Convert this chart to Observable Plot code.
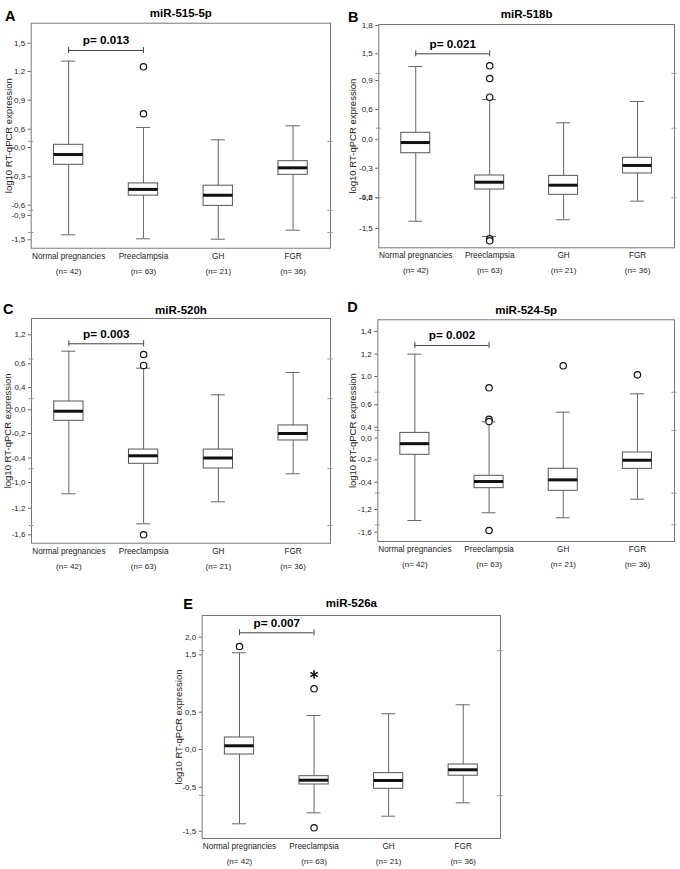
<!DOCTYPE html>
<html><head><meta charset="utf-8">
<script src="https://cdn.jsdelivr.net/npm/d3@7"></script>
<script src="https://cdn.jsdelivr.net/npm/@observablehq/plot@0.6"></script>
<style>
body{margin:0;background:#fff}
#fig{position:relative;width:680px;height:869px;overflow:hidden}
#fig svg{position:absolute;overflow:visible}
</style></head><body><div id="fig"></div><script>
// ---- shared categories ----
const groups = ["Normal pregnancies", "Preeclampsia", "GH", "FGR"];
const groupN = ["(n= 42)", "(n= 63)", "(n= 21)", "(n= 36)"];
const yLabel = "log10 RT-qPCR expression";

// ---- Panel A: miR-515-5p ----
const ticksA = [-1.5, -0.9, -0.6, -0.3, 0.0, 0.6, 0.9, 1.2, 1.5];
const tickLabelsA = ["-1,5", "-0,9", "-0,6", "-0,3", "0,0", "0,6", "0,9", "1,2", "1,5"];
const lowA = [-1.376, -1.475, -1.485, -1.263];
const q1A = [-0.177, -0.499, -0.62, -0.28];
const medA = [-0.072, -0.433, -0.495, -0.208];
const q3A = [0.089, -0.37, -0.394, -0.14];
const highA = [1.31, 0.618, 0.252, 0.635];
const outGroupA = [1, 1];
const outValA = [1.25, 0.76];
const breaksA = [0.2, -0.75, -1.32];

// ---- Panel B: miR-518b ----
const ticksB = [-1.5, -1.2, -0.3, 0.0, 0.6, 0.9, 1.5, 1.8];
const tickLabelsB = ["-1,5", "-1,2", "-0,3", "0,0", "0,6", "0,9", "1,5", "1,8"];
const overlapTickB = [-1.2];
const overlapLabelB = ["-0,6"];
const lowB = [-1.429, -1.578, -1.415, -1.233];
const q1B = [-0.142, -0.948, -1.109, -0.461];
const medB = [-0.029, -0.726, -0.817, -0.271];
const q3B = [0.139, -0.522, -0.533, -0.19];
const highB = [1.215, 0.703, 0.337, 0.683];
const outGroupB = [1, 1, 1, 1, 1];
const outValB = [1.23, 0.945, 0.727, -1.60, -1.62];
const breaksB = [1.06, 0.23, -1.2];

// ---- Panel C: miR-520h ----
const ticksC = [-1.6, -1.2, -1.0, -0.4, -0.2, 0.0, 0.4, 0.6, 1.2];
const tickLabelsC = ["-1,6", "-1,2", "-1,0", "-0,4", "-0,2", "0,0", "0,4", "0,6", "1,2"];
const lowC = [-1.088, -1.435, -1.15, -0.787];
const q1C = [-0.093, -0.542, -0.657, -0.257];
const medC = [-0.012, -0.382, -0.40, -0.2];
const q3C = [0.149, -0.331, -0.331, -0.132];
const highC = [0.861, 0.563, 0.269, 0.527];
const outGroupC = [1, 1, 1];
const outValC = [0.792, 0.586, -1.6];
const breaksC = [0.70, 0.2, -0.66, -1.46];

// ---- Panel D: miR-524-5p ----
const ticksD = [-1.6, -1.2, -0.4, -0.2, 0.0, 0.4, 0.6, 1.0, 1.2, 1.4];
const tickLabelsD = ["-1,6", "-1,2", "-0,4", "-0,2", "0,0", "0,4", "0,6", "1,0", "1,2", "1,4"];
const lowD = [-1.394, -1.258, -1.346, -0.898];
const q1D = [-0.154, -0.576, -0.652, -0.281];
const medD = [-0.052, -0.394, -0.379, -0.204];
const q3D = [0.189, -0.343, -0.28, -0.133];
const highD = [1.2, 0.448, 0.534, 0.755];
const outGroupD = [1, 1, 1, 1, 2, 3];
const outValD = [0.84, 0.471, 0.451, -1.57, 1.096, 1.015];
const breaksD = [0.778, 0.28, -0.72, -1.47];

// ---- Panel E: miR-526a ----
const ticksE = [-1.5, -0.5, 0.0, 0.5, 1.5, 2.0];
const tickLabelsE = ["-1,5", "-0,5", "0,0", "0,5", "1,5", "2,0"];
const lowE = [-1.332, -1.082, -1.159, -0.855];
const q1E = [-0.066, -0.464, -0.536, -0.348];
const medE = [0.05, -0.407, -0.411, -0.269];
const q3E = [0.161, -0.354, -0.314, -0.199];
const highE = [1.557, 0.456, 0.479, 0.629];
const outGroupE = [0, 1, 1];
const outValE = [1.736, 0.908, -1.423];
const extremeGroupE = [1];
const extremeValE = [1.157];
const breaksE = [1.62, -0.69];

// ---- p-value brackets ----
const pTexts = ["p= 0.013", "p= 0.021", "p= 0.003", "p= 0.002", "p= 0.007"];
const pLevels = [1.423, 1.5, 1.014, 1.277, 2.125];

// ---- layout (positions / sizes only) ----
const layouts = [
  {letter: "A", title: "miR-515-5p", left: 0, top: 0, width: 340, height: 285,
   m: [22.7, 10, 37.3, 30.7], yPx: [239.3, 215, 204.7, 176.3, 147, 128.7, 99.7, 71, 42.7],
   titleDy: -14.4, letterDx: -21, letterDy: -12.7, yLabDx: -22.7},
  {letter: "B", title: "miR-518b", left: 340, top: 0, width: 340, height: 285,
   m: [24, 6, 37.7, 38.3], yPx: [228, 197.3, 167.7, 139.3, 109, 80, 53.3, 25],
   titleDy: -15, letterDx: -25.5, letterDy: -13.2, yLabDx: -26.3},
  {letter: "C", title: "miR-520h", left: 0, top: 290, width: 340, height: 285,
   m: [28, 10, 32.3, 31], yPx: [244.3, 217.7, 192, 167.5, 143, 119.3, 97, 73.3, 44.3],
   titleDy: -13, letterDx: -23.2, letterDy: -14.7, yLabDx: -24},
  {letter: "D", title: "miR-524-5p", left: 340, top: 290, width: 340, height: 285,
   m: [29.3, 6, 34, 37.3], yPx: [241.7, 219, 191.7, 169.3, 147.5, 136.7, 114.3, 86, 63.7, 41],
   titleDy: -14.3, letterDx: -25.3, letterDy: -17.6, yLabDx: -24.8},
  {letter: "E", title: "miR-526a", left: 160, top: 585, width: 370, height: 284,
   m: [30, 30, 31, 41.7], yPx: [245.7, 201.7, 164, 126.7, 69.3, 51.7],
   titleDy: -16.7, letterDx: -14.2, letterDy: -16.7, yLabDx: -23.4}
];

const panels = [
  {ticks: ticksA, labels: tickLabelsA, low: lowA, q1: q1A, med: medA, q3: q3A, high: highA, og: outGroupA, ov: outValA, br: breaksA},
  {ticks: ticksB, labels: tickLabelsB, low: lowB, q1: q1B, med: medB, q3: q3B, high: highB, og: outGroupB, ov: outValB, br: breaksB,
   extraTicks: overlapTickB, extraLabels: overlapLabelB},
  {ticks: ticksC, labels: tickLabelsC, low: lowC, q1: q1C, med: medC, q3: q3C, high: highC, og: outGroupC, ov: outValC, br: breaksC},
  {ticks: ticksD, labels: tickLabelsD, low: lowD, q1: q1D, med: medD, q3: q3D, high: highD, og: outGroupD, ov: outValD, br: breaksD},
  {ticks: ticksE, labels: tickLabelsE, low: lowE, q1: q1E, med: medE, q3: q3E, high: highE, og: outGroupE, ov: outValE, br: breaksE,
   eg: extremeGroupE, ev: extremeValE}
];

const FONT = "'Liberation Sans', Arial, Helvetica, sans-serif";
const idx = groups.map((_, i) => i);
const BOX = 0.196, CAP = 0.094, BRK = 0.035;
const gray = "#666", dark = "#111";

const fig = document.getElementById("fig");
panels.forEach((d, p) => {
  const L = layouts[p];
  const marks = [
    Plot.frame({stroke: "#777"}),
    Plot.ruleY(d.br, {x1: () => -0.5 - BRK, x2: () => -0.5 + BRK, stroke: "#999"}),
    Plot.ruleY(d.br, {x1: () => 3.5 - BRK, x2: () => 3.5 + BRK, stroke: "#999"}),
    // whiskers
    Plot.ruleX(idx, {x: i => i, y1: i => d.low[i], y2: i => d.high[i], stroke: gray}),
    Plot.ruleY(idx, {x1: i => i - CAP, x2: i => i + CAP, y: i => d.low[i], stroke: gray}),
    Plot.ruleY(idx, {x1: i => i - CAP, x2: i => i + CAP, y: i => d.high[i], stroke: gray}),
    // boxes
    Plot.rect(idx, {x1: i => i - BOX, x2: i => i + BOX, y1: i => d.q1[i], y2: i => d.q3[i], fill: "white", stroke: "#555"}),
    Plot.ruleY(idx, {x1: i => i - BOX, x2: i => i + BOX, y: i => d.med[i], stroke: dark, strokeWidth: 3}),
    // outliers
    Plot.dot(d.og, {x: g => g, y: (g, j) => d.ov[j], r: 3.2, stroke: dark, fill: "white", strokeWidth: 1.2}),
    // p bracket
    Plot.ruleY([pLevels[p]], {x1: () => 0, x2: () => 1, y: v => v, stroke: "#444"}),
    Plot.ruleX([0, 1], {x: v => v, y1: () => pLevels[p], y2: () => pLevels[p], insetTop: -3, insetBottom: -3, stroke: "#444"}),
    Plot.text([pTexts[p]], {x: () => 0.5, y: () => pLevels[p], dy: -10, fontWeight: "bold", fontSize: 11.7, fill: "#000"}),
    // y axis
    Plot.axisY({ticks: d.ticks, tickFormat: v => d.labels[d.ticks.indexOf(v)], tickSize: 3, tickPadding: 3,
                fontSize: 8, fill: "#222", stroke: gray, label: null}),
    Plot.text([yLabel], {frameAnchor: "left", textAnchor: "middle", rotate: -90, dx: L.yLabDx, fontSize: 9.5, fill: "#222"}),
    // x labels
    Plot.text(idx, {x: i => i, frameAnchor: "bottom", text: i => groups[i], dy: 10.5, fontSize: 8.2, fill: "#222"}),
    Plot.text(idx, {x: i => i, frameAnchor: "bottom", text: i => groupN[i], dy: 25.5, fontSize: 8, fill: "#222"}),
    // title + letter
    Plot.text([L.title], {frameAnchor: "top", textAnchor: "middle", dy: L.titleDy, fontSize: 11.5, fontWeight: "bold", fill: "#000"}),
    Plot.text([L.letter], {frameAnchor: "top-left", textAnchor: "middle", dx: L.letterDx, dy: L.letterDy, fontSize: 14.5, fontWeight: "bold", fill: "#000"})
  ];
  if (d.extraTicks) {
    marks.push(Plot.axisY({ticks: d.extraTicks, tickFormat: (v) => d.extraLabels[d.extraTicks.indexOf(v)], tickSize: 0, tickPadding: 6,
                           fontSize: 8, fill: "#222", label: null}));
  }
  if (d.eg) {
    marks.push(Plot.dot(d.eg, {x: g => g, y: (g, j) => d.ev[j], symbol: "asterisk", r: 4, stroke: dark, strokeWidth: 1.6}));
  }
  const svg = Plot.plot({
    width: L.width, height: L.height,
    marginTop: L.m[0], marginRight: L.m[1], marginBottom: L.m[2], marginLeft: L.m[3],
    style: {fontFamily: FONT, background: "transparent", overflow: "visible"},
    x: {domain: [-0.5, 3.5], axis: null},
    y: {type: "linear", domain: d.ticks, range: L.yPx},
    marks
  });
  svg.style.left = L.left + "px";
  svg.style.top = L.top + "px";
  fig.appendChild(svg);
});
</script></body></html>
